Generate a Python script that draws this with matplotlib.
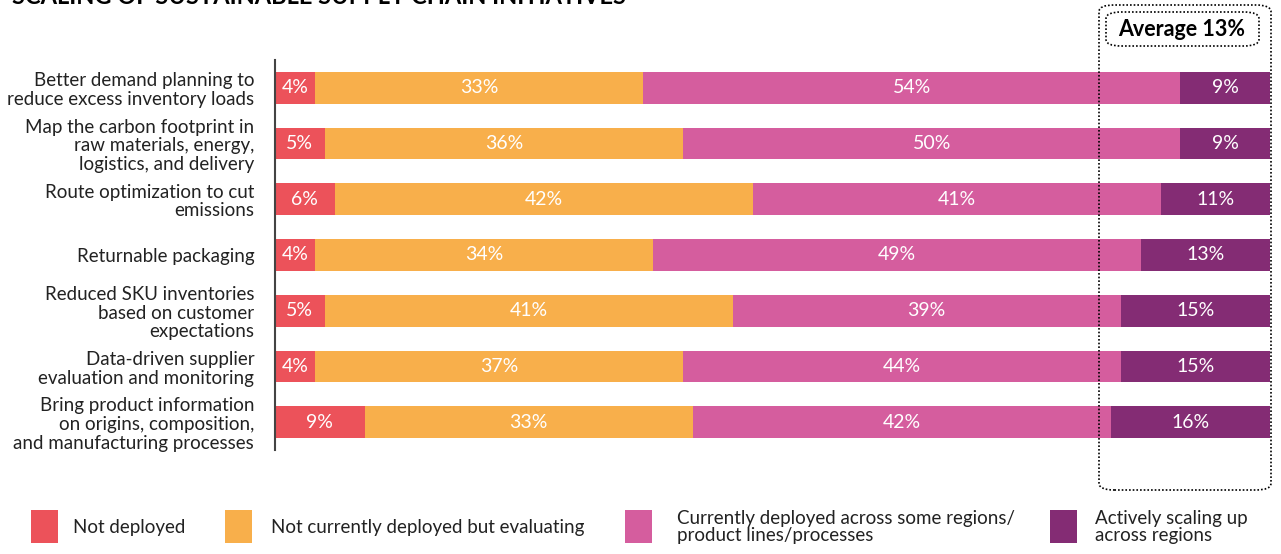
import matplotlib
matplotlib.use("Agg")
import matplotlib.pyplot as plt
from matplotlib.patches import FancyBboxPatch, Rectangle

plt.rcParams['font.family'] = ['Lato', 'DejaVu Sans']

categories = [
    "Better demand planning to\nreduce excess inventory loads",
    "Map the carbon footprint in\nraw materials, energy,\nlogistics, and delivery",
    "Route optimization to cut\nemissions",
    "Returnable packaging",
    "Reduced SKU inventories\nbased on customer\nexpectations",
    "Data-driven supplier\nevaluation and monitoring",
    "Bring product information\non origins, composition,\nand manufacturing processes",
]
not_deployed = [4, 5, 6, 4, 5, 4, 9]
evaluating = [33, 36, 42, 34, 41, 37, 33]
some_regions = [54, 50, 41, 49, 39, 44, 42]
scaling = [9, 9, 11, 13, 15, 15, 16]
series = [not_deployed, evaluating, some_regions, scaling]
series_names = ["Not deployed", "Not currently deployed but evaluating",
                "Currently deployed across some regions/\nproduct lines/processes",
                "Actively scaling up\nacross regions"]
colors = ["#EC525A", "#F8AF4B", "#D55D9E", "#842C74"]
average_label = "Average 13%"
title = "SCALING OF SUSTAINABLE SUPPLY CHAIN INITIATIVES"

W, H = 1281, 554
fig = plt.figure(figsize=(W / 100, H / 100), dpi=100)


def fx(px):
    return px / W


def fy(py):
    return 1 - py / H


ax = fig.add_axes([fx(275), fy(450), fx(1270) - fx(275), fy(60) - fy(450)])

ys = list(range(len(categories)))
left = [0] * len(categories)
for vals, col in zip(series, colors):
    ax.barh(ys, vals, left=left, height=0.57, color=col, linewidth=0)
    for y, v, l in zip(ys, vals, left):
        ax.text(l + v / 2, y, f"{v}%", ha='center', va='center',
                color='white', fontsize=14)
    left = [a + b for a, b in zip(left, vals)]

ax.set_xlim(0, 100)
ax.set_ylim(6.5, -0.5)
ax.set_yticks(ys)
ax.set_yticklabels(categories, fontsize=13.5, color='#222222', linespacing=1.12)
ax.tick_params(axis='y', length=0, pad=15)
ax.set_xticks([])
for s in ['top', 'right', 'bottom']:
    ax.spines[s].set_visible(False)
ax.spines['left'].set_color('#444444')
ax.spines['left'].set_linewidth(1.5)

# title, cut at the top edge as in the source
fig.text(fx(12), fy(4), title, fontsize=17, fontweight='bold', color='black',
         ha='left', va='baseline')

# dotted average boxes
outer = FancyBboxPatch((fx(1099), fy(490)), fx(1271) - fx(1099), fy(5) - fy(490),
                       boxstyle="round,pad=0,rounding_size=0.012",
                       transform=fig.transFigure, fill=False, edgecolor='black',
                       linestyle=(0, (1, 1.2)), linewidth=1.2)
fig.add_artist(outer)
inner = FancyBboxPatch((fx(1106), fy(46)), fx(1259) - fx(1106), fy(12) - fy(46),
                       boxstyle="round,pad=0,rounding_size=0.012",
                       transform=fig.transFigure, fill=False, edgecolor='black',
                       linestyle=(0, (1, 1.2)), linewidth=1.2)
fig.add_artist(inner)
fig.text(fx(1182), fy(29), average_label, ha='center', va='center',
         fontsize=15.5, fontweight='bold', color='black')

# legend
sq_x = [31, 225, 625, 1050]
tx_x = [73, 271, 677, 1095]
for name, col, sx, tx in zip(series_names, colors, sq_x, tx_x):
    fig.add_artist(Rectangle((fx(sx), fy(543)), fx(27), fy(510) - fy(543),
                             transform=fig.transFigure, color=col, linewidth=0))
    fig.text(fx(tx), fy(527), name, ha='left', va='center', fontsize=13.5,
             color='#222222', linespacing=1.05)

fig.savefig("out.png", dpi=100)
